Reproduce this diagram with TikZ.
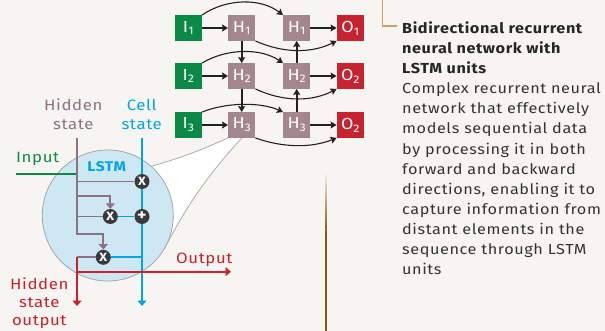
\documentclass[tikz,border=0pt]{standalone}
\usepackage{fontspec}
\setmainfont{Fira Sans}[FakeStretch=1.12,LetterSpace=4]
\usetikzlibrary{arrows.meta,calc}
\definecolor{bg}{HTML}{F7F5F1}
\definecolor{igreen}{HTML}{0B8A47}
\definecolor{hmauve}{HTML}{A3878C}
\definecolor{ored}{HTML}{C4232F}
\definecolor{lmauve}{HTML}{8C7283}
\definecolor{cblue}{HTML}{00A5E6}
\definecolor{lred}{HTML}{C8202E}
\definecolor{circfill}{HTML}{CDE8F3}
\definecolor{gatecol}{HTML}{3A3A3A}
\definecolor{txt}{HTML}{333333}
\definecolor{darkline}{HTML}{222222}
\definecolor{tanline}{HTML}{C4A263}
\definecolor{brnline}{HTML}{8A5A0E}
\newcommand\boxlbl[2]{#1\raisebox{-0.35ex}{\fontsize{11}{11}\selectfont #2}}
\pgfdeclarelayer{back}
\pgfdeclarelayer{lines}
\pgfsetlayers{back,lines,main}
\begin{document}
\begin{tikzpicture}[x=1pt,y=-1pt,
 netbox/.style={minimum width=27pt,minimum height=25.5pt,inner sep=0pt,text=white,font=\fontsize{16}{16}\selectfont},
 ibox/.style={netbox,fill=igreen},
 hbox/.style={netbox,fill=hmauve},
 obox/.style={netbox,fill=ored},
 netarrow/.style={draw=darkline,line width=1.8pt,-{Stealth[length=6pt,width=7pt,inset=1pt]}},
 netcurve/.style={draw=darkline,line width=1.1pt,-{Stealth[length=6pt,width=7pt,inset=1pt]}},
 mline/.style={draw=lmauve,line width=1.7pt},
 bline/.style={draw=cblue,line width=1.8pt},
 rline/.style={draw=lred,line width=1.8pt},
 gline/.style={draw=igreen,line width=1.8pt},
 tri/.style={-{Triangle[length=5.5pt,width=9pt]}},
 gatec/.style={circle,fill=gatecol,minimum size=15pt,inner sep=0pt,text=white,font=\bfseries\fontsize{12}{12}\selectfont},
 lab/.style={anchor=base,inner sep=0pt,font=\fontsize{15}{15}\selectfont},
 desc/.style={anchor=base west,text=txt,inner sep=0pt,font=\fontsize{14.5}{14.5}\selectfont},
 cone/.style={draw=gray!65,line width=0.8pt},
]
\begin{pgfonlayer}{back}
\fill[bg] (0,0) rectangle (605,331);
\end{pgfonlayer}
\useasboundingbox (0,0) rectangle (605,331);

% ---------- network ----------
\foreach \r/\y in {1/28,2/76,3/125}{
  \node[ibox] (i\r) at (188.3,\y) {\boxlbl{I}{\r}};
  \node[hbox] (hf\r) at (241.7,\y) {\boxlbl{H}{\r}};
  \node[hbox] (hb\r) at (296.7,\y) {\boxlbl{H}{\r}};
}
\node[obox] (o1) at (350.3,28) {\boxlbl{O}{1}};
\node[obox] (o2) at (350.3,76) {\boxlbl{O}{2}};
\node[obox] (o3) at (350.3,125) {\boxlbl{O}{2}};
\foreach \r in {1,2,3}{
  \draw[netarrow] (i\r) -- (hf\r);
  \draw[netarrow] (hb\r) -- (o\r);
}
\draw[netarrow] (hf1) -- (hf2);
\draw[netarrow] (hf2) -- (hf3);
\draw[netarrow] (hb3) -- (hb2);
\draw[netarrow] (hb2) -- (hb1);
\foreach \r/\u/\d in {1/17/12.5,2/15/13,3/10/10}{
  \draw[netcurve] (i\r.north east) .. controls +(25,-\u) and +(-22,-\u) .. (hb\r.north west);
  \draw[netcurve] (hf\r.south east) .. controls +(28,\d) and +(-25,\d) .. (o\r.south west);
}

% ---------- zoom cone ----------
\coordinate (cc) at (107.8,215.5);
\coordinate (ctu) at (151.1,166.4);
\coordinate (ctl) at (164.5,248.3);
\begin{pgfonlayer}{back}
\fill[white] (hf3.south west) to[bend left=4] (ctu) -- (cc) -- (ctl) to[bend left=7] (hf3.south) -- cycle;
\draw[cone] (hf3.south west) to[bend left=4] (ctu);
\draw[cone] (hf3.south) to[bend right=7] (ctl);
\node[circle,minimum size=131pt,inner sep=0pt,fill=circfill,draw=gray!70,line width=0.8pt] (lstm) at (cc) {};
\end{pgfonlayer}

% ---------- LSTM internals ----------
\coordinate (hs) at (77,138);
\coordinate (hb1c) at (77,181.5);
\coordinate (hb2c) at (77,196);
\coordinate (hb3c) at (77,216.5);
\coordinate (hend) at (77,234.3);
\coordinate (hout) at (77,257.3);
\coordinate (hoe) at (77,306);
\coordinate (ob) at (77,271.7);
\coordinate (oe) at (231,271.7);
\coordinate (cs) at (142,138);
\coordinate (ce) at (142,306);
\coordinate (c3) at (142,257.3);
\coordinate (in0) at (16,174);
\coordinate (in1) at (77,174);

\node[gatec] (g1) at (142,181.5) {X};
\node[gatec] (g2) at (110.3,216.5) {X};
\node[gatec,font=\bfseries\fontsize{16}{16}\selectfont] (gp) at (142,216.5) {+};
\node[gatec] (g3) at (103.3,257.3) {X};

\begin{pgfonlayer}{lines}
\draw[bline,tri] (cs) -- (ce);
\draw[bline] (g2) -- (gp);
\draw[bline] (g3) -- (c3);
\draw[gline] (in0) -- (in1);
\draw[mline,tri] (hs) -- (hend) -| (g3.north);
\draw[mline] (hb1c) -- (g1);
\draw[mline,tri] (hb2c) -| (g2.north);
\draw[mline] (hb3c) -- (g2);
\draw[mline] (g3) -- (hout);
\draw[rline,tri] (hout) -- (hoe);
\draw[rline,tri] (ob) -- (oe);
\end{pgfonlayer}

% ---------- labels ----------
\node[lab,text=lmauve] (hid1) at (73.3,110.7) {Hidden};
\node[lab,text=lmauve] (hid2) at (73.3,129.3) {state};
\node[lab,text=cblue] (cel1) at (141.7,110.7) {Cell};
\node[lab,text=cblue] (cel2) at (141.7,129.3) {state};
\node[lab,anchor=base west,text=igreen] (inp) at (16,162.7) {Input};
\node[lab,anchor=base west,text=lred] (outp) at (176,263.3) {Output};
\node[lab,text=lred] (ho1) at (39.3,289) {Hidden};
\node[lab,text=lred] (ho2) at (39.3,307.3) {state};
\node[lab,text=lred] (ho3) at (39.3,325) {output};
\node[lab,text=cblue,font=\bfseries\fontsize{14}{14}\selectfont] (lstmlbl) at (106.7,171.7) {LSTM};

% ---------- description ----------
\coordinate (bk0) at (382.7,0);
\coordinate (bk1) at (396.7,26);
\draw[tanline,line width=1.2pt] (bk0) |- (bk1);
\shade[top color=bg,bottom color=brnline] (325.3,172) rectangle (326.8,230);
\fill[brnline] (325.3,230) rectangle (326.8,331);

\foreach \t [count=\i] in {Bidirectional recurrent,neural network with,LSTM units}
  \node[desc,text=black!85,font=\bfseries\fontsize{14.5}{14.5}\selectfont] (t\i) at (402,{33.3+20.14*(\i-1)}) {\t};
\foreach \t [count=\i] in {Complex recurrent neural,network that effectively,models sequential data,by processing it in both,forward and backward,{directions, enabling it to},capture information from,distant elements in the,sequence through LSTM,units}
  \node[desc] (d\i) at (402,{33.3+20.14*(\i+2)}) {\t};
\end{tikzpicture}
\end{document}
